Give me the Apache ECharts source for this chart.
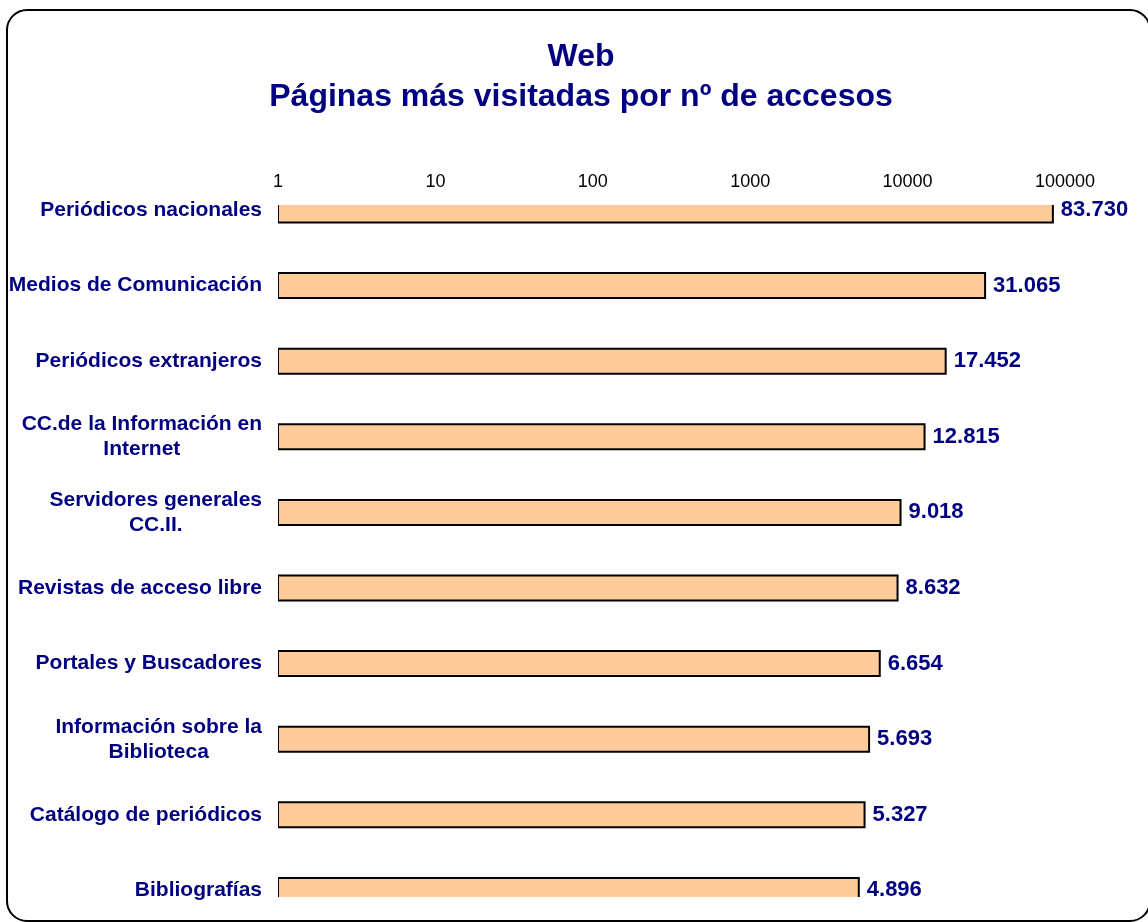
<!DOCTYPE html>
<html>
<head>
<meta charset="utf-8">
<title>Web - Páginas más visitadas</title>
<script src="https://cdn.jsdelivr.net/npm/echarts@6/dist/echarts.min.js"></script>
<style>
  html,body{margin:0;padding:0;background:#fff;}
  #main{width:1148px;height:922px;}
</style>
</head>
<body>
<div id="main"></div>
<script>
// datos
const categories = [
  'Periódicos nacionales',
  'Medios de Comunicación',
  'Periódicos extranjeros',
  'CC.de la Información en\nInternet',
  'Servidores generales\nCC.II.',
  'Revistas de acceso libre',
  'Portales y Buscadores',
  'Información sobre la\nBiblioteca',
  'Catálogo de periódicos',
  'Bibliografías'
];
const accesos = [83730, 31065, 17452, 12815, 9018, 8632, 6654, 5693, 5327, 4896];
const xTicks = [1, 10, 100, 1000, 10000, 100000];

const font = "'Liberation Sans', Arial, sans-serif";
const navy = '#000080';

// 83730 -> "83.730"
const fmt = v => String(v).replace(/\B(?=(\d{3})+(?!\d))/g, '.');

const barData = accesos.map((v, i) => [v, i]);

let myChart = echarts.init(document.getElementById('main'));
const option = {
  backgroundColor: '#fff',
  animation: false,
  title: {
    text: 'Web\nPáginas más visitadas por nº de accesos',
    left: 581,
    top: 37,
    textAlign: 'center',
    padding: 0,
    textStyle: {
      color: navy, fontFamily: font, fontSize: 32, fontWeight: 'bold', lineHeight: 40
    }
  },
  grid: { left: 278, right: 83, top: 205, bottom: 25 },
  xAxis: {
    type: 'log',
    logBase: 10,
    min: xTicks[0],
    max: xTicks[xTicks.length - 1],
    position: 'top',
    axisLine: { show: false },
    axisTick: { show: false },
    splitLine: { show: false },
    axisLabel: {
      margin: 14,
      color: '#000',
      fontFamily: font,
      fontSize: 18,
      formatter: v => String(v)
    }
  },
  // eje Y numérico para poder recortar la primera y la última barra como en el original
  yAxis: {
    type: 'value',
    inverse: true,
    min: -0.066,
    max: 9.087,
    axisLine: { show: false },
    axisTick: { show: false },
    splitLine: { show: false },
    axisLabel: {
      customValues: categories.map((c, i) => i),
      margin: 16,
      align: 'right',
      formatter: v => categories[v].split('\n').map(s => '{c|' + s + '}').join('\n'),
      rich: {
        c: {
          align: 'center', color: navy, fontFamily: font, fontSize: 21,
          fontWeight: 'bold', lineHeight: 25
        }
      }
    }
  },
  series: [
    {
      type: 'custom',
      clip: true,
      encode: { x: 0, y: 1 },
      data: barData,
      renderItem: function (params, api) {
        const start = api.coord([1, api.value(1)]);
        const end = api.coord([api.value(0), api.value(1)]);
        const h = 25;
        return {
          type: 'rect',
          shape: { x: start[0], y: start[1] - h / 2, width: end[0] - start[0], height: h },
          style: { fill: '#FFCC99', stroke: '#000', lineWidth: 2 }
        };
      }
    },
    {
      // etiquetas de valor al final de cada barra
      type: 'scatter',
      symbolSize: 0,
      itemStyle: { opacity: 1 },
      data: barData,
      label: {
        show: true,
        position: 'right',
        distance: 8,
        color: navy,
        opacity: 1,
        fontFamily: font,
        fontSize: 22,
        fontWeight: 'bold',
        formatter: p => fmt(p.value[0])
      }
    }
  ],
  graphic: [
    {
      type: 'rect',
      shape: { x: 7, y: 10, width: 1143, height: 911, r: 20 },
      style: { fill: 'none', stroke: '#000', lineWidth: 2 },
      z: 100
    }
  ]
};
myChart.setOption(option);
</script>
</body>
</html>
